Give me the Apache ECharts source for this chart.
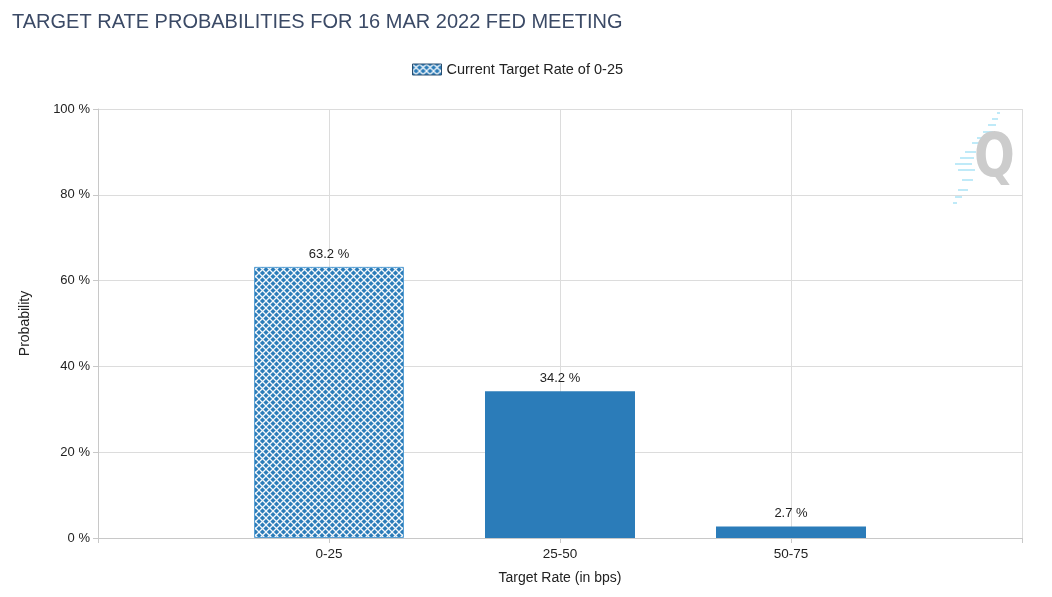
<!DOCTYPE html>
<html>
<head>
<meta charset="utf-8">
<script src="https://cdn.jsdelivr.net/npm/echarts@6/dist/echarts.min.js"></script>
<style>
html,body{margin:0;padding:0;background:#fff;}
#c{width:1052px;height:597px;}
</style>
</head>
<body>
<div id="c"></div>
<script>
const categories = ['', '0-25', '25-50', '50-75', ''];
const probabilities = ['-', 63.2, 34.2, 2.7, '-'];
const yTicks = [0, 20, 40, 60, 80, 100];
const currentIndex = 1;
const seriesName = 'Current Target Rate of 0-25';

function makePattern() {
  const s = 7;
  const cv = document.createElement('canvas');
  cv.width = s; cv.height = s;
  const ctx = cv.getContext('2d');
  ctx.fillStyle = '#2b7cb9';
  ctx.fillRect(0, 0, s, s);
  ctx.strokeStyle = 'rgba(255,255,255,0.95)';
  ctx.lineWidth = 1.3;
  ctx.beginPath();
  ctx.moveTo(-1, -1); ctx.lineTo(s + 1, s + 1);
  ctx.moveTo(-1, s + 1); ctx.lineTo(s + 1, -1);
  ctx.stroke();
  return { image: cv, repeat: 'repeat' };
}
const pattern = makePattern();

// watermark decoration (logo streaks)
const streaks = [[997,1000,113],[992,998,119],[988,996,125],[983,993,132],[977,988,138],[972,982,143],[965,976,152],[960,974,158],[955,972,164],[958,975,170],[962,973,180],[958,968,190],[955,962,197],[953,957,203]];
const logo = streaks.map(s => ({
  type: 'line', silent: true, z: 0,
  shape: { x1: s[0], y1: s[2], x2: s[1], y2: s[2] },
  style: { stroke: '#bfeaf8', lineWidth: 2 }
}));
logo.push({ type: 'text', x: 974, y: 130, scaleX: 0.8, z: 1, silent: true,
  style: { text: 'Q', fontSize: 60, fontWeight: 'bold', fill: '#cccccc', fontFamily: 'DejaVu Sans, sans-serif' } });

const chart = echarts.init(document.getElementById('c'), null, { renderer: 'canvas' });
const data = probabilities.map((v, i) => i === currentIndex
  ? { value: v, itemStyle: { color: pattern, borderColor: '#5aa0d4', borderWidth: 1 } }
  : v);

chart.setOption({
  animation: false,
  textStyle: { fontFamily: 'Liberation Sans, Arial, sans-serif' },
  title: {
    text: 'TARGET RATE PROBABILITIES FOR 16 MAR 2022 FED MEETING',
    left: 7, top: 7,
    textStyle: { fontSize: 20, fontWeight: 'normal', color: '#3b4a66', fontFamily: 'Liberation Sans, Arial, sans-serif' }
  },
  legend: {
    top: 57, left: 407,
    icon: 'rect', itemWidth: 29, itemHeight: 11, itemGap: 10,
    textStyle: { fontSize: 14.5, color: '#222' },
    data: [{ name: seriesName, itemStyle: { color: pattern, borderColor: '#2a4f70', borderWidth: 1 } }]
  },
  grid: { left: 98, right: 30, top: 109, bottom: 59, containLabel: false },
  xAxis: {
    type: 'category',
    data: categories,
    boundaryGap: false,
    name: 'Target Rate (in bps)',
    nameLocation: 'middle',
    nameGap: 33,
    nameTextStyle: { fontSize: 14, color: '#222' },
    axisLine: { show: true, lineStyle: { color: '#c8c8c8' } },
    axisTick: { show: true, length: 5, lineStyle: { color: '#c8c8c8' } },
    axisLabel: { fontSize: 13.5, color: '#222', margin: 9 },
    splitLine: { show: true, lineStyle: { color: '#dcdcdc' } }
  },
  yAxis: {
    type: 'value',
    min: 0, max: 100, interval: 20,
    name: 'Probability',
    nameLocation: 'middle',
    nameGap: 66,
    nameRotate: 90,
    nameTextStyle: { fontSize: 14, color: '#222' },
    axisLine: { show: true, lineStyle: { color: '#c8c8c8' } },
    axisTick: { show: true, length: 5, lineStyle: { color: '#c8c8c8' } },
    axisLabel: { fontSize: 13, color: '#222', margin: 8,
      formatter: v => yTicks.includes(v) ? v + ' %' : '' },
    splitLine: { show: true, lineStyle: { color: '#dcdcdc' } }
  },
  graphic: logo,
  series: [{
    name: seriesName,
    type: 'bar',
    data: data,
    barWidth: 150,
    itemStyle: { color: '#2b7cb9' },
    label: { show: true, position: 'top', distance: 6, fontSize: 13, color: '#222',
      formatter: p => p.value + ' %' }
  }]
});
</script>
</body>
</html>
